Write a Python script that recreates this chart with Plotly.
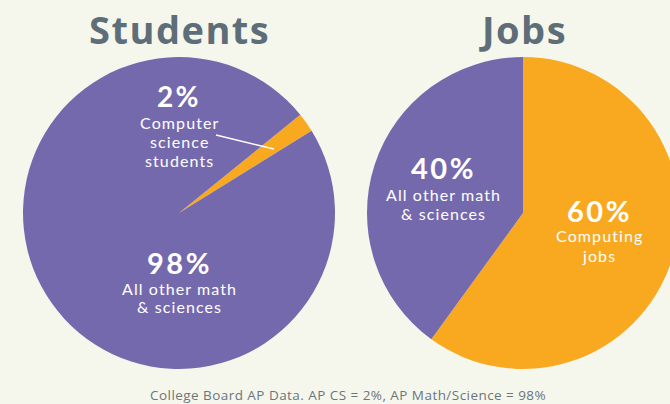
import plotly.graph_objects as go

# ---- data ----
students_labels = ["Computer science students", "All other math & sciences"]
students_values = [2, 98]
jobs_labels = ["Computing jobs", "All other math & sciences"]
jobs_values = [60, 40]
titles = ["Students", "Jobs"]
source_note = "College Board AP Data. AP CS = 2%, AP Math/Science = 98%"

PURPLE = "#7569ae"
ORANGE = "#f9a91f"
BG = "#f5f7ec"
TITLE_C = "#5d6e79"

W, H = 690, 404  # figure slightly wider than the window so the right pie is clipped


def px(x):
    return x / W


def py(y):
    return 1 - y / H


def dom(cx, cy, r):
    return dict(x=[px(cx - r), px(cx + r)], y=[py(cy + r), py(cy - r)])


fig = go.Figure()
fig.add_trace(go.Pie(
    labels=students_labels, values=students_values, sort=False,
    direction="clockwise", rotation=51,
    marker=dict(colors=[ORANGE, PURPLE], line=dict(width=0)),
    textinfo="none", hoverinfo="label+percent",
    domain=dom(179, 213, 156), showlegend=False,
))
fig.add_trace(go.Pie(
    labels=jobs_labels, values=jobs_values, sort=False,
    direction="clockwise", rotation=0,
    marker=dict(colors=[ORANGE, PURPLE], line=dict(width=0)),
    textinfo="none", hoverinfo="label+percent",
    domain=dom(523, 213, 156), showlegend=False,
))

ann = []


def add(text, x, y, size, color="white", weight=400, spacing=1.1, family="Lato"):
    ann.append(dict(
        text=f"<span style='letter-spacing:{spacing}px'>{text}</span>",
        x=px(x), y=py(y),
        xref="paper", yref="paper", showarrow=False,
        xanchor="center", yanchor="middle",
        font=dict(size=size, color=color, family=family, weight=weight),
    ))


# titles
add(titles[0], 179, 29, 38, TITLE_C, 700, 1.5, "Open Sans")
add(titles[1], 523, 29, 38, TITLE_C, 700, 1.5, "Open Sans")

# left pie labels
add(f"{students_values[0]}%", 179, 96, 28, weight=700, spacing=2.2)
add("Computer", 179, 122, 16)
add("science", 179, 141, 16)
add("students", 179, 160, 16)
add(f"{students_values[1]}%", 179, 262, 29, weight=700, spacing=2.5)
add("All other math", 179, 288, 16)
add("& sciences", 179, 306, 16)

# right pie labels
add(f"{jobs_values[1]}%", 444, 168, 29, weight=700, spacing=2.5)
add("All other math", 444, 194, 16)
add("& sciences", 444, 213, 16)
add(f"{jobs_values[0]}%", 599, 210, 29, weight=700, spacing=2.5)
add("Computing", 599, 236, 16)
add("jobs", 599, 255, 16)

# source
add(source_note, 348, 395, 13.5, "#6c757e", 400, 0.45, "Open Sans")

fig.update_layout(
    width=W, height=H,
    margin=dict(l=0, r=0, t=0, b=0),
    paper_bgcolor=BG, plot_bgcolor=BG,
    annotations=ann,
    shapes=[dict(type="line", xref="paper", yref="paper",
                 x0=px(216), y0=py(135), x1=px(274), y1=py(149),
                 line=dict(color="white", width=1.5))],
)

fig.write_html("out.html", post_script="document.body.style.overflow='hidden';document.body.style.margin='0';")
